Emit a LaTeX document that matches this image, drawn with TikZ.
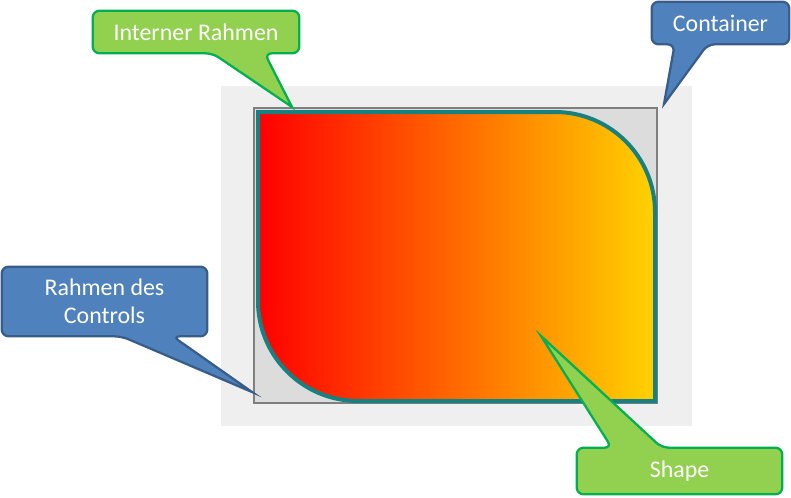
\documentclass[tikz,border=0pt]{standalone}
\usepackage{fontspec}
\setmainfont{Carlito}
\usepackage{xcolor}
\usepackage{tikz}
\usetikzlibrary{calc}
\usetikzlibrary{positioning}

\definecolor{calloutgreen}{HTML}{92D050}
\definecolor{calloutgreenline}{HTML}{00B050}
\definecolor{calloutblue}{HTML}{4F81BD}
\definecolor{calloutblueline}{HTML}{385D8A}
\definecolor{containergray}{HTML}{EFEFEF}
\definecolor{framegray}{HTML}{DCDCDC}
\definecolor{frameline}{HTML}{7F7F7F}
\definecolor{shapeteal}{HTML}{178080}
\definecolor{shapeyellow}{HTML}{FFD200}

\begin{document}
\begin{tikzpicture}[
	x=0.02cm, y=-0.02cm,
	font=\fontsize{13.6}{16.2}\selectfont
]
\tikzset{
    calloutbox/.style = {rectangle, inner sep=0pt, draw=none},
		labeltext/.style = {text=white, align=center, inner sep=0pt},
		greencallout/.style = {fill=calloutgreen, draw=calloutgreenline, line width=1.3pt, rounded corners=0.14cm},
		bluecallout/.style = {fill=calloutblue, draw=calloutblueline, line width=1.3pt, rounded corners=0.14cm}
}
\useasboundingbox (0,0) rectangle (791,497);
% container, frame and shape
\fill[containergray] (221,86) rectangle (692,426);
\draw[fill=framegray, draw=frameline, line width=1pt] (254,108) rectangle (657,403);
\draw[left color=red, right color=shapeyellow, draw=shapeteal, line width=0.08cm]
	(258,112) -- (555,112) arc[start angle=-90, end angle=0, radius=100] -- (655,401)
	-- (358,401) arc[start angle=90, end angle=180, radius=100] -- cycle;
% callouts
\node[calloutbox, minimum width=4.12cm, minimum height=0.84cm] (intern) at (196,32) {};
\coordinate (internTip) at (292,107);
\draw[greencallout] (intern.north) -- (intern.north east) -- (intern.south east)
	-- ($(intern.south west)+(172,0)$) [sharp corners] -- (internTip) [rounded corners=0.14cm]
	-- ($(intern.south west)+(120,0)$) -- (intern.south west) -- (intern.north west) -- cycle
	node[labeltext] at (intern.center) {Interner Rahmen};

\node[calloutbox, minimum width=2.74cm, minimum height=0.84cm] (container) at (720.5,23) {};
\coordinate (containerTip) at (664,104);
\draw[bluecallout] (container.north) -- (container.north east) -- (container.south east)
	-- ($(container.south west)+(56,0)$) [sharp corners] -- (containerTip) [rounded corners=0.14cm]
	-- ($(container.south west)+(23,0)$) -- (container.south west) -- (container.north west) -- cycle
	node[labeltext] at (container.center) {Container};

\node[calloutbox, minimum width=4.10cm, minimum height=1.38cm] (controls) at (104.5,301.5) {};
\coordinate (controlsTip) at (252,392);
\draw[bluecallout] (controls.north) -- (controls.north east) -- (controls.south east)
	-- ($(controls.south west)+(171,0)$) [sharp corners] -- (controlsTip) [rounded corners=0.14cm]
	-- ($(controls.south west)+(120,0)$) -- (controls.south west) -- (controls.north west) -- cycle
	node[labeltext] at (controls.center) {Rahmen des\\Controls};

\node[calloutbox, minimum width=4.10cm, minimum height=0.92cm] (shape) at (679.5,471) {};
\coordinate (shapeTip) at (541,336);
\draw[greencallout] (shape.south) -- (shape.south west) -- (shape.north west)
	-- ($(shape.north west)+(35,0)$) [sharp corners] -- (shapeTip) [rounded corners=0.14cm]
	-- ($(shape.north west)+(85,0)$) -- (shape.north east) -- (shape.south east) -- cycle
	node[labeltext] at (shape.center) {Shape};
\end{tikzpicture}
\end{document}
